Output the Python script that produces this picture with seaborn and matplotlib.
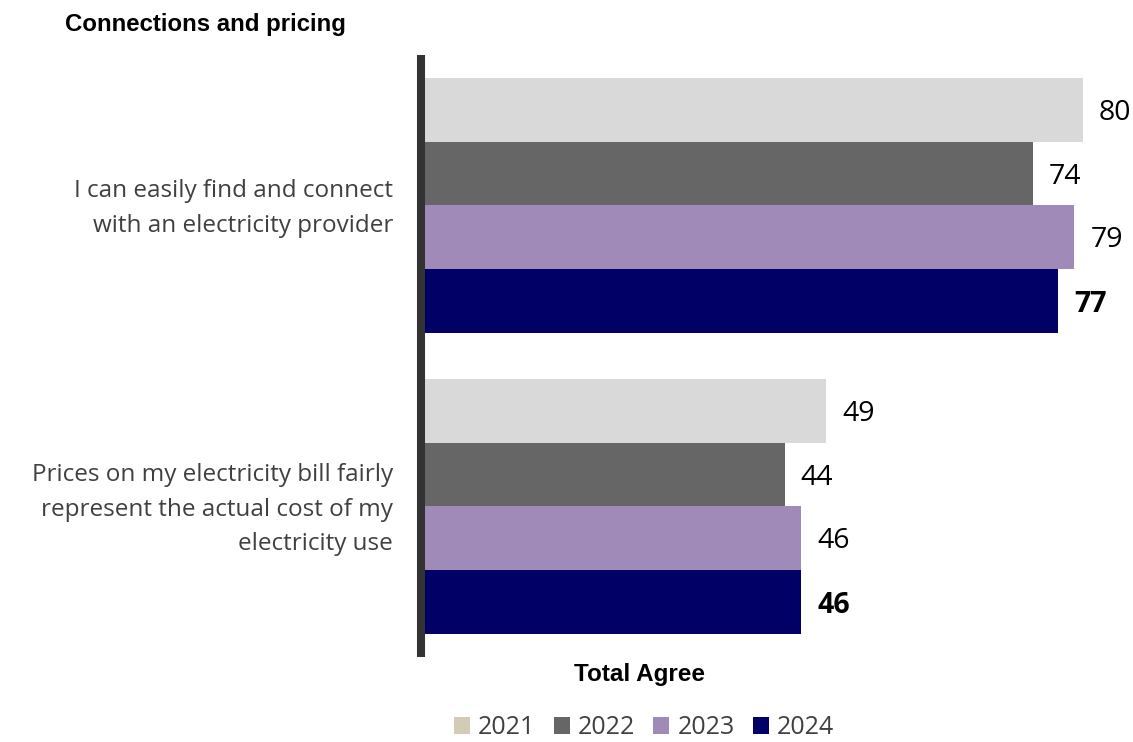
import matplotlib
matplotlib.use("Agg")
import matplotlib.pyplot as plt
import matplotlib.transforms as mtransforms
from matplotlib.patches import Patch
import seaborn as sns
import pandas as pd

statements = [
    "I can easily find and connect\nwith an electricity provider",
    "Prices on my electricity bill fairly\nrepresent the actual cost of my\nelectricity use",
]
years = ["2021", "2022", "2023", "2024"]
values_2021 = [80, 49]
values_2022 = [74, 44]
values_2023 = [79, 46]
values_2024 = [77, 46]

bar_colors = ["#D9D9D9", "#666666", "#A08AB8", "#000066"]
legend_colors = ["#D3CBB5", "#666666", "#A08AB8", "#000066"]

series = [values_2021, values_2022, values_2023, values_2024]
rows = []
for year, vals in zip(years, series):
    for stmt, v in zip(statements, vals):
        rows.append({"statement": stmt, "year": year, "value": v})
df = pd.DataFrame(rows)

sns.set_theme(style="white")
plt.rcParams["font.family"] = ["Open Sans", "DejaVu Sans"]

fig = plt.figure(figsize=(11.33, 7.42), dpi=100)
ax = fig.add_axes([421 / 1133, 85 / 742, 680 / 1133, 602 / 742])

sns.barplot(
    data=df, y="statement", x="value", hue="year",
    order=statements, hue_order=years,
    palette=dict(zip(years, bar_colors)),
    orient="h", width=0.845, linewidth=0, saturation=1,
    legend=False, ax=ax,
)

ax.set_xlim(0, 680 / 8.27)
ax.set_ylim(1.5, -0.5)
ax.set_xlabel("")
ax.set_ylabel("")
ax.set_xticks([])
for side in ["top", "right", "bottom"]:
    ax.spines[side].set_visible(False)
ax.spines["left"].set_color("#333333")
ax.spines["left"].set_linewidth(5.8)
ax.spines["left"].set_capstyle("butt")
ax.tick_params(axis="y", length=0, pad=20, labelsize=17.5, labelcolor="#404040")
lift = mtransforms.ScaledTranslation(0, 5 / 100, fig.dpi_scale_trans)
for lbl in ax.get_yticklabels():
    lbl.set_linespacing(1.57)
    lbl.set_transform(lbl.get_transform() + lift)

# value labels beside each bar; the latest year is emphasised
for container, year in zip(ax.containers, years):
    labels = [f"{v:.0f}" for v in container.datavalues]
    anns = ax.bar_label(
        container, labels=labels, padding=11.5, fontsize=20.5, color="black",
        fontweight="bold" if year == "2024" else "normal",
    )
    for ann in anns:
        ann.xyann = (11.5, -2.3)

fig.text(65 / 1133, 1 - 24 / 742, "Connections and pricing",
         family="Liberation Sans", fontweight="bold", fontsize=17.3,
         ha="left", va="center", color="black")
fig.text(639 / 1133, 1 - 675 / 742, "Total Agree",
         family="Liberation Sans", fontweight="bold", fontsize=17.5,
         ha="center", va="center", color="black")

handles = [Patch(facecolor=c, edgecolor="none", label=y)
           for c, y in zip(legend_colors, years)]
fig.legend(handles=handles, loc="center", bbox_to_anchor=(644 / 1133, 1 - 728 / 742),
           ncol=4, frameon=False, fontsize=18, labelcolor="#404040",
           handlelength=0.65, handleheight=0.65, handletextpad=0.32, columnspacing=0.72)

fig.savefig("out.png", dpi=100)
